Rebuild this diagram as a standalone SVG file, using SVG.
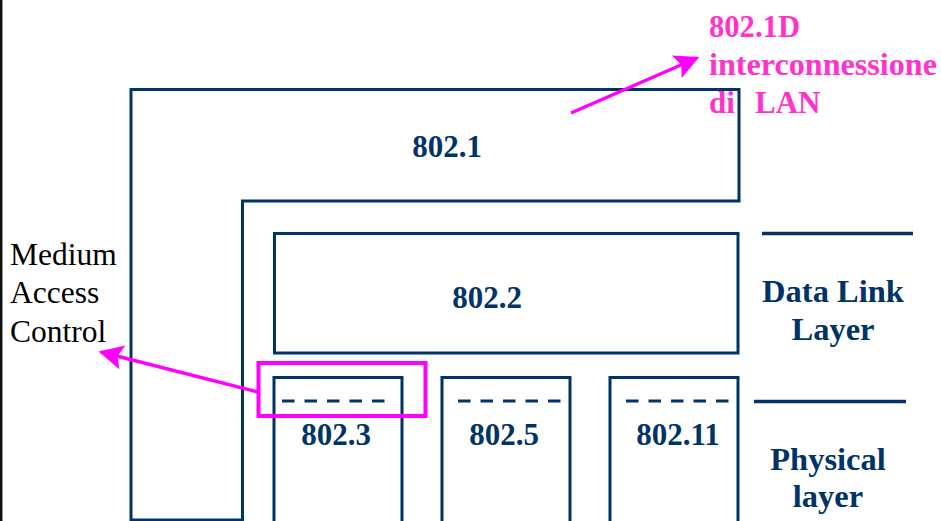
<svg xmlns="http://www.w3.org/2000/svg" width="941" height="521" viewBox="0 0 941 521">
<defs>
<style>
.box{fill:none;stroke:#003366;stroke-width:3}
.dash{stroke:#003366;stroke-width:3;stroke-dasharray:12.5 10}
.rule{stroke:#003366;stroke-width:3.5}
.lbl{font-family:"Liberation Serif","Times New Roman",serif;font-weight:bold;font-size:31px;fill:#003366;text-anchor:middle}
.big{font-size:32.5px}
.pink{font-family:"Liberation Serif","Times New Roman",serif;font-weight:bold;font-size:31px;fill:#ff33cc}
.mac{font-family:"Liberation Serif","Times New Roman",serif;font-size:31.5px;fill:#000000}
.arr{stroke:#ff00ff;stroke-width:3.5;fill:none}
</style>
<marker id="ah" viewBox="0 0 10 10" refX="9" refY="5" markerWidth="7.5" markerHeight="7" markerUnits="strokeWidth" orient="auto">
<path d="M0,0 L10,5 L0,10 L2,5 Z" fill="#ff00ff"/>
</marker>
</defs>
<rect x="0" y="0" width="941" height="521" fill="#ffffff"/>
<line x1="1.2" y1="0" x2="1.2" y2="521" stroke="#111111" stroke-width="2.5"/>
<g id="n8021">
<path class="box" d="M131,520 V89.5 H739 V201 H242.5 V520 Z"/>
<text class="lbl" x="447" y="157">802.1</text>
</g>
<g id="n8022">
<rect class="box" x="274.5" y="233.5" width="463.5" height="119.5"/>
<text class="lbl" x="487" y="308">802.2</text>
</g>
<g id="n8023">
<rect class="box" x="274" y="377.5" width="128" height="146"/>
<line class="dash" x1="282" y1="401" x2="385" y2="401"/>
<text class="lbl" x="336" y="445">802.3</text>
</g>
<g id="n8025">
<rect class="box" x="442" y="377.5" width="128" height="146"/>
<line class="dash" x1="458" y1="401" x2="561" y2="401"/>
<text class="lbl" x="504" y="445">802.5</text>
</g>
<g id="n80211">
<rect class="box" x="610" y="377.5" width="128" height="146"/>
<line class="dash" x1="626" y1="401" x2="729" y2="401"/>
<text class="lbl" x="678" y="445">802.11</text>
</g>
<g id="layers">
<line class="rule" x1="762" y1="233.5" x2="913" y2="233.5"/>
<line class="rule" x1="754" y1="401.5" x2="906" y2="401.5"/>
<text class="lbl big" x="833" y="302">Data Link</text>
<text class="lbl big" x="833" y="340">Layer</text>
<text class="lbl big" x="828" y="470">Physical</text>
<text class="lbl big" x="828" y="507">layer</text>
</g>
<g id="mac">
<rect x="258.5" y="363" width="167" height="53" fill="none" stroke="#ff00ff" stroke-width="4"/>
<text class="mac" x="10" y="265">Medium</text>
<text class="mac" x="10" y="303">Access</text>
<text class="mac" x="10" y="342">Control</text>
</g>
<g id="note8021d">
<text class="pink" x="709" y="37" textLength="91" lengthAdjust="spacingAndGlyphs">802.1D</text>
<text class="pink" x="709" y="75" textLength="228" lengthAdjust="spacingAndGlyphs">interconnessione</text>
<text class="pink" y="113"><tspan x="709">di</tspan><tspan x="755">LAN</tspan></text>
</g>
<g id="connectors">
<line class="arr" x1="571" y1="113" x2="697" y2="58" marker-end="url(#ah)"/>
<line class="arr" x1="258" y1="392" x2="101" y2="352" marker-end="url(#ah)"/>
</g>
</svg>
